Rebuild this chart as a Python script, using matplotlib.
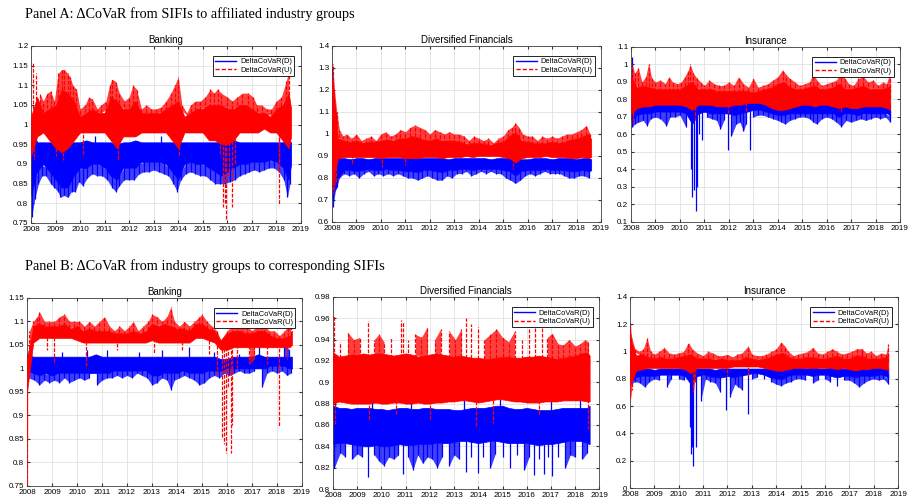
import numpy as np
import matplotlib.pyplot as plt
from matplotlib.lines import Line2D
from matplotlib.ticker import FuncFormatter

plt.rcParams["font.family"] = ["Liberation Sans", "DejaVu Sans"]

BLUE = (0.0, 0.0, 1.0)
RED = (1.0, 0.0, 0.0)

# quarterly time grid (decimal years) for the dense core of each series
quarters = list(np.arange(2008.0, 2018.51, 0.25)) + [2018.6]
years = list(range(2008, 2020))

# ---------------- Panel A: from SIFIs to industry groups ----------------
bankA_d_hi = [1.00, 0.955, 0.955, 0.955, 0.955, 0.955, 0.955, 0.955, 0.955, 0.96, 0.955, 0.955,
              0.955, 0.955, 0.95, 0.955, 0.955, 0.96, 0.955, 0.955, 0.955, 0.955, 0.955, 0.955,
              0.955, 0.955, 0.955, 0.955, 0.955, 0.955, 0.955, 0.955, 0.955, 0.96, 0.955, 0.955,
              0.955, 0.955, 0.955, 0.955, 0.955, 0.955, 0.96, 0.955]
bankA_d_lo = [0.82, 0.88, 0.90, 0.88, 0.86, 0.84, 0.84, 0.87, 0.89, 0.89, 0.90, 0.90,
              0.89, 0.87, 0.86, 0.89, 0.89, 0.89, 0.905, 0.905, 0.905, 0.905, 0.90, 0.88,
              0.86, 0.90, 0.905, 0.90, 0.90, 0.89, 0.88, 0.87, 0.88, 0.89, 0.90, 0.90,
              0.905, 0.905, 0.905, 0.91, 0.905, 0.89, 0.86, 0.90]
bankA_u_hi = [1.02, 1.07, 1.03, 1.04, 1.05, 1.09, 1.08, 1.06, 1.02, 1.03, 1.04, 1.03,
              1.03, 1.07, 1.06, 1.04, 1.04, 1.06, 1.03, 1.03, 1.03, 1.03, 1.04, 1.05,
              1.06, 1.02, 1.03, 1.04, 1.04, 1.05, 1.05, 1.05, 1.04, 1.04, 1.05, 1.05,
              1.04, 1.03, 1.03, 1.02, 1.04, 1.05, 1.08, 1.04]
bankA_u_lo = [0.92, 0.97, 0.98, 0.96, 0.94, 0.93, 0.94, 0.96, 0.98, 0.98, 0.98, 0.98,
              0.98, 0.96, 0.94, 0.97, 0.97, 0.97, 0.98, 0.98, 0.98, 0.98, 0.98, 0.96,
              0.94, 0.98, 0.98, 0.98, 0.98, 0.96, 0.96, 0.95, 0.95, 0.96, 0.98, 0.98,
              0.98, 0.98, 0.99, 0.98, 0.98, 0.96, 0.94, 0.97]
bankA_d_spikes = [(2008.02, 0.765), (2008.05, 1.0), (2008.1, 0.97), (2010.6, 0.97),
                  (2013.3, 0.97), (2016.1, 0.97),
                  (2008.15, 0.81), (2008.3, 0.85), (2008.45, 0.87), (2008.6, 0.87),
                  (2008.8, 0.85), (2008.95, 0.84), (2009.1, 0.83), (2009.2, 0.815),
                  (2009.35, 0.82), (2009.5, 0.815), (2009.65, 0.83), (2009.8, 0.83),
                  (2009.95, 0.855), (2010.1, 0.845), (2010.3, 0.865), (2010.5, 0.875),
                  (2010.7, 0.87), (2010.9, 0.87), (2011.1, 0.86), (2011.3, 0.84),
                  (2011.45, 0.83), (2011.6, 0.845), (2011.8, 0.86), (2012.0, 0.86),
                  (2012.2, 0.86), (2012.4, 0.875), (2012.6, 0.88), (2012.8, 0.88),
                  (2013.0, 0.885), (2013.2, 0.88), (2013.4, 0.875), (2013.6, 0.87),
                  (2013.8, 0.85), (2013.95, 0.83), (2014.1, 0.86), (2014.3, 0.875),
                  (2014.5, 0.88), (2014.7, 0.875), (2014.9, 0.87), (2015.1, 0.87),
                  (2015.3, 0.86), (2015.5, 0.85), (2015.7, 0.85), (2015.9, 0.85),
                  (2016.1, 0.855), (2016.3, 0.86), (2016.5, 0.87), (2016.7, 0.875),
                  (2016.9, 0.88), (2017.1, 0.885), (2017.3, 0.88), (2017.5, 0.885),
                  (2017.7, 0.89), (2017.9, 0.89), (2018.1, 0.88), (2018.3, 0.86),
                  (2018.45, 0.815), (2018.55, 0.85)]
bankA_u_spikes = [(2008.08, 1.16), (2008.2, 1.13), (2008.35, 1.08), (2008.5, 1.06),
                  (2008.65, 1.08), (2008.8, 1.085), (2008.95, 1.06), (2009.1, 1.13),
                  (2009.25, 1.14), (2009.35, 1.14), (2009.5, 1.13), (2009.6, 1.12),
                  (2009.7, 1.10), (2009.85, 1.09), (2010.0, 1.04), (2010.2, 1.05),
                  (2010.35, 1.07), (2010.5, 1.065), (2010.7, 1.04), (2010.85, 1.05),
                  (2011.05, 1.06), (2011.2, 1.10), (2011.3, 1.115), (2011.45, 1.11),
                  (2011.6, 1.08), (2011.8, 1.06), (2012.0, 1.07), (2012.15, 1.10),
                  (2012.3, 1.09), (2012.5, 1.04), (2012.7, 1.05), (2012.9, 1.04),
                  (2013.1, 1.04), (2013.3, 1.045), (2013.5, 1.06), (2013.7, 1.08),
                  (2013.85, 1.10), (2014.0, 1.12), (2014.15, 1.05), (2014.35, 1.03),
                  (2014.5, 1.05), (2014.7, 1.06), (2014.9, 1.06), (2015.1, 1.07),
                  (2015.3, 1.09), (2015.45, 1.08), (2015.6, 1.09), (2015.75, 1.08),
                  (2016.0, 1.07), (2016.2, 1.06), (2016.4, 1.07), (2016.6, 1.08),
                  (2016.85, 1.08), (2017.05, 1.07), (2017.2, 1.05), (2017.4, 1.05),
                  (2017.6, 1.04), (2017.8, 1.04), (2018.0, 1.06), (2018.2, 1.07),
                  (2018.4, 1.11), (2018.5, 1.135),
                  (2008.12, 0.91), (2009.0, 0.92), (2009.3, 0.91), (2010.1, 0.92),
                  (2011.55, 0.91), (2014.05, 0.92), (2015.7, 0.92), (2016.3, 0.90),
                  (2015.82, 0.79), (2015.9, 0.80), (2015.95, 0.76), (2016.05, 0.87),
                  (2016.2, 0.79), (2018.1, 0.795), (2018.12, 0.88)]

divA_d_hi = [1.25, 0.89, 0.89, 0.885, 0.89, 0.89, 0.885, 0.89, 0.89, 0.89, 0.89, 0.89,
             0.89, 0.89, 0.89, 0.89, 0.89, 0.89, 0.89, 0.885, 0.89, 0.89, 0.89, 0.89,
             0.89, 0.89, 0.885, 0.89, 0.89, 0.89, 0.89, 0.885, 0.885, 0.89, 0.89, 0.89,
             0.885, 0.89, 0.89, 0.89, 0.885, 0.89, 0.89, 0.885]
divA_d_lo = [0.70, 0.80, 0.835, 0.835, 0.83, 0.835, 0.84, 0.835, 0.835, 0.84, 0.835, 0.835,
             0.83, 0.83, 0.825, 0.835, 0.835, 0.83, 0.825, 0.835, 0.835, 0.84, 0.84, 0.835,
             0.84, 0.84, 0.84, 0.84, 0.835, 0.83, 0.81, 0.83, 0.835, 0.835, 0.835, 0.84,
             0.835, 0.835, 0.835, 0.83, 0.83, 0.835, 0.83, 0.835]
divA_u_hi = [1.25, 0.98, 0.97, 0.965, 0.97, 0.96, 0.965, 0.965, 0.97, 0.975, 0.97, 0.98,
             0.98, 0.99, 0.985, 0.975, 0.97, 0.98, 0.97, 0.97, 0.97, 0.965, 0.955, 0.96,
             0.96, 0.955, 0.95, 0.96, 0.965, 0.99, 1.01, 0.97, 0.965, 0.96, 0.96, 0.96,
             0.965, 0.96, 0.965, 0.975, 0.98, 0.99, 1.00, 0.975]
divA_u_lo = [0.78, 0.89, 0.895, 0.895, 0.895, 0.895, 0.895, 0.895, 0.89, 0.895, 0.895, 0.895,
             0.89, 0.89, 0.89, 0.895, 0.895, 0.895, 0.89, 0.895, 0.895, 0.895, 0.90, 0.895,
             0.90, 0.90, 0.90, 0.90, 0.895, 0.89, 0.87, 0.89, 0.895, 0.895, 0.895, 0.90,
             0.895, 0.895, 0.895, 0.89, 0.89, 0.895, 0.89, 0.895]
divA_d_spikes = [(2008.02, 1.31), (2008.1, 1.16), (2008.15, 1.10), (2008.04, 0.67),
                 (2008.15, 0.75), (2008.2, 0.76),
                 (2008.3, 0.80), (2008.5, 0.82), (2008.7, 0.81), (2008.9, 0.82),
                 (2009.1, 0.80), (2009.3, 0.82), (2009.5, 0.83), (2009.7, 0.81),
                 (2009.9, 0.82), (2010.1, 0.81), (2010.3, 0.82), (2010.5, 0.81),
                 (2010.7, 0.82), (2010.9, 0.81), (2011.1, 0.80), (2011.3, 0.80),
                 (2011.5, 0.79), (2011.7, 0.80), (2011.9, 0.81), (2012.1, 0.80),
                 (2012.3, 0.79), (2012.5, 0.79), (2012.7, 0.81), (2012.9, 0.80),
                 (2013.1, 0.82), (2013.3, 0.82), (2013.5, 0.83), (2013.7, 0.81),
                 (2013.9, 0.82), (2014.1, 0.83), (2014.3, 0.82), (2014.5, 0.83),
                 (2014.7, 0.82), (2014.9, 0.82), (2015.1, 0.80), (2015.3, 0.79),
                 (2015.5, 0.775), (2015.7, 0.79), (2015.9, 0.81), (2016.1, 0.82),
                 (2016.3, 0.81), (2016.5, 0.82), (2016.7, 0.83), (2016.9, 0.82),
                 (2017.1, 0.82), (2017.3, 0.82), (2017.5, 0.81), (2017.7, 0.80),
                 (2017.9, 0.80), (2018.1, 0.81), (2018.3, 0.81), (2018.5, 0.80)]
divA_u_spikes = [(2008.03, 1.32), (2008.1, 1.20), (2008.2, 1.10), (2008.05, 0.73),
                 (2008.15, 0.78),
                 (2008.3, 1.02), (2008.45, 0.99), (2008.6, 1.0), (2008.8, 0.98),
                 (2009.0, 1.0), (2009.2, 0.97), (2009.4, 0.98), (2009.6, 0.99),
                 (2009.8, 0.97), (2010.0, 1.0), (2010.2, 1.01), (2010.4, 0.99),
                 (2010.6, 1.0), (2010.8, 1.02), (2011.0, 1.01), (2011.2, 1.03),
                 (2011.4, 1.04), (2011.6, 1.03), (2011.8, 1.02), (2012.0, 1.0),
                 (2012.2, 1.02), (2012.4, 1.01), (2012.6, 1.0), (2012.8, 1.01),
                 (2013.0, 1.0), (2013.2, 1.0), (2013.4, 0.99), (2013.6, 0.97),
                 (2013.8, 0.99), (2014.0, 0.98), (2014.2, 0.97), (2014.4, 0.98),
                 (2014.6, 0.96), (2014.8, 0.98), (2015.0, 0.99), (2015.2, 1.02),
                 (2015.35, 1.03), (2015.5, 1.05), (2015.65, 1.03), (2015.8, 1.0),
                 (2016.0, 0.99), (2016.2, 0.99), (2016.4, 0.97), (2016.6, 0.99),
                 (2016.8, 0.98), (2017.0, 0.99), (2017.2, 0.98), (2017.4, 0.99),
                 (2017.6, 1.0), (2017.8, 1.0), (2018.0, 1.01), (2018.2, 1.02),
                 (2018.4, 1.04), (2018.55, 1.0),
                 (2008.8, 0.86), (2010.05, 0.85), (2011.0, 0.86), (2015.42, 0.84)]

insA_d_hi = [0.79, 0.785, 0.785, 0.785, 0.78, 0.785, 0.785, 0.785, 0.785, 0.785, 0.78, 0.785,
             0.785, 0.785, 0.78, 0.78, 0.78, 0.78, 0.785, 0.785, 0.785, 0.785, 0.785, 0.785,
             0.78, 0.78, 0.78, 0.785, 0.785, 0.785, 0.785, 0.785, 0.785, 0.785, 0.785, 0.785,
             0.78, 0.78, 0.785, 0.785, 0.785, 0.785, 0.785, 0.78]
insA_d_lo = [0.68, 0.71, 0.72, 0.72, 0.73, 0.73, 0.73, 0.73, 0.73, 0.72, 0.66, 0.72,
             0.73, 0.72, 0.72, 0.72, 0.72, 0.71, 0.72, 0.73, 0.74, 0.74, 0.73, 0.72,
             0.71, 0.71, 0.72, 0.72, 0.72, 0.72, 0.72, 0.72, 0.72, 0.72, 0.70, 0.72,
             0.72, 0.71, 0.72, 0.72, 0.72, 0.72, 0.72, 0.70]
insA_u_hi = [0.93, 0.87, 0.88, 0.87, 0.86, 0.86, 0.86, 0.86, 0.86, 0.88, 0.90, 0.86,
             0.86, 0.86, 0.85, 0.85, 0.85, 0.85, 0.85, 0.85, 0.84, 0.85, 0.86, 0.87,
             0.89, 0.90, 0.87, 0.86, 0.86, 0.87, 0.88, 0.86, 0.86, 0.87, 0.89, 0.86,
             0.86, 0.87, 0.88, 0.86, 0.86, 0.86, 0.87, 0.88]
insA_u_lo = [0.72, 0.75, 0.76, 0.76, 0.77, 0.77, 0.77, 0.77, 0.77, 0.76, 0.74, 0.77,
             0.77, 0.77, 0.76, 0.76, 0.76, 0.77, 0.77, 0.78, 0.78, 0.78, 0.77, 0.75,
             0.74, 0.74, 0.75, 0.76, 0.77, 0.77, 0.76, 0.77, 0.77, 0.76, 0.75, 0.76,
             0.75, 0.75, 0.76, 0.76, 0.76, 0.76, 0.75, 0.74]
insA_d_spikes = [(2008.03, 1.04), (2008.06, 0.95),
                 (2008.04, 0.64), (2008.15, 0.66), (2008.3, 0.67), (2008.5, 0.68),
                 (2008.65, 0.65), (2008.8, 0.69), (2009.0, 0.70), (2009.2, 0.69),
                 (2009.45, 0.65), (2009.6, 0.70), (2009.8, 0.70), (2010.0, 0.71),
                 (2010.25, 0.64), (2010.45, 0.40), (2010.5, 0.24), (2010.58, 0.28),
                 (2010.65, 0.165), (2010.7, 0.30), (2010.8, 0.60), (2010.9, 0.57),
                 (2011.1, 0.70), (2011.3, 0.69), (2011.5, 0.68), (2011.65, 0.63),
                 (2011.8, 0.68), (2011.95, 0.51), (2012.1, 0.59), (2012.3, 0.66),
                 (2012.45, 0.67), (2012.6, 0.62), (2012.7, 0.66), (2012.85, 0.51),
                 (2013.0, 0.70), (2013.2, 0.71), (2013.4, 0.71), (2013.6, 0.70),
                 (2013.8, 0.69), (2014.0, 0.68), (2014.15, 0.67), (2014.3, 0.66),
                 (2014.5, 0.68), (2014.7, 0.69), (2014.9, 0.70), (2015.1, 0.70),
                 (2015.3, 0.69), (2015.45, 0.67), (2015.6, 0.66), (2015.8, 0.69),
                 (2016.0, 0.70), (2016.2, 0.69), (2016.4, 0.67), (2016.6, 0.645),
                 (2016.8, 0.68), (2017.0, 0.67), (2017.2, 0.68), (2017.4, 0.69),
                 (2017.6, 0.68), (2017.8, 0.69), (2018.0, 0.70), (2018.2, 0.69),
                 (2018.4, 0.70), (2018.6, 0.67)]
insA_u_spikes = [(2008.05, 1.0), (2008.15, 0.95), (2008.3, 0.98), (2008.45, 0.90),
                 (2008.6, 0.93), (2008.72, 1.005), (2008.85, 0.92), (2009.0, 0.90),
                 (2009.2, 0.91), (2009.4, 0.89), (2009.55, 0.93), (2009.7, 0.90),
                 (2009.9, 0.89), (2010.05, 0.90), (2010.2, 0.93), (2010.35, 0.97),
                 (2010.42, 1.0), (2010.55, 0.95), (2010.7, 0.92), (2010.85, 0.90),
                 (2011.0, 0.88), (2011.2, 0.91), (2011.4, 0.89), (2011.6, 0.88),
                 (2011.8, 0.88), (2012.0, 0.90), (2012.2, 0.88), (2012.4, 0.93),
                 (2012.6, 0.89), (2012.8, 0.87), (2013.0, 0.92), (2013.2, 0.87),
                 (2013.4, 0.88), (2013.6, 0.89), (2013.8, 0.91), (2014.0, 0.93),
                 (2014.2, 0.97), (2014.35, 0.94), (2014.5, 0.92), (2014.7, 0.90),
                 (2014.9, 0.88), (2015.1, 0.89), (2015.3, 0.90), (2015.45, 0.95),
                 (2015.6, 0.91), (2015.8, 0.88), (2016.0, 0.89), (2016.2, 0.90),
                 (2016.4, 0.91), (2016.6, 0.96), (2016.75, 0.92), (2016.9, 0.89),
                 (2017.1, 0.88), (2017.3, 0.92), (2017.5, 0.93), (2017.7, 0.90),
                 (2017.9, 0.91), (2018.1, 0.88), (2018.3, 0.90), (2018.45, 0.89),
                 (2018.6, 0.96),
                 (2008.07, 0.66), (2008.1, 0.70), (2010.6, 0.68), (2011.95, 0.72),
                 (2012.7, 0.73), (2016.6, 0.72)]

# ---------------- Panel B: from industry groups to SIFIs ----------------
bankB_d_hi = [1.03, 1.025, 1.025, 1.025, 1.025, 1.025, 1.025, 1.025, 1.025, 1.025, 1.025, 1.03,
              1.025, 1.025, 1.025, 1.025, 1.025, 1.025, 1.025, 1.025, 1.025, 1.025, 1.025, 1.025,
              1.025, 1.025, 1.025, 1.025, 1.025, 1.025, 1.025, 1.02, 1.02, 1.025, 1.025, 1.025,
              1.025, 1.03, 1.025, 1.025, 1.025, 1.025, 1.025, 1.025]
bankB_d_lo = [0.995, 0.99, 0.985, 0.99, 0.985, 0.99, 0.99, 0.99, 0.99, 0.99, 0.99, 0.99,
              0.99, 0.99, 0.995, 0.995, 0.995, 0.995, 0.995, 0.995, 0.985, 0.985, 0.99, 0.99,
              0.99, 0.995, 0.99, 0.99, 0.99, 0.995, 0.995, 0.995, 1.0, 1.0, 1.0, 1.0,
              1.0, 1.0, 1.0, 1.005, 1.005, 1.005, 1.0, 1.0]
bankB_u_hi = [1.02, 1.09, 1.095, 1.09, 1.09, 1.09, 1.095, 1.085, 1.09, 1.08, 1.085, 1.08,
              1.08, 1.08, 1.075, 1.075, 1.075, 1.08, 1.075, 1.08, 1.095, 1.09, 1.095, 1.09,
              1.085, 1.085, 1.08, 1.095, 1.095, 1.085, 1.08, 1.06, 1.075, 1.08, 1.08, 1.075,
              1.075, 1.08, 1.08, 1.07, 1.065, 1.065, 1.07, 1.08]
bankB_u_lo = [0.95, 1.055, 1.065, 1.065, 1.065, 1.065, 1.065, 1.065, 1.06, 1.055, 1.055, 1.055,
              1.055, 1.055, 1.055, 1.055, 1.055, 1.055, 1.055, 1.055, 1.06, 1.055, 1.055, 1.055,
              1.055, 1.055, 1.055, 1.065, 1.065, 1.06, 1.055, 1.04, 1.04, 1.045, 1.045, 1.045,
              1.045, 1.045, 1.045, 1.045, 1.045, 1.045, 1.045, 1.05]
bankB_d_spikes = [(2008.1, 1.04), (2009.4, 1.035), (2010.4, 1.04), (2011.2, 1.04),
                  (2012.5, 1.035), (2013.4, 1.04), (2014.5, 1.045), (2015.5, 1.035),
                  (2016.5, 1.03), (2017.3, 1.045), (2018.3, 1.05), (2018.5, 1.04),
                  (2008.05, 0.98), (2008.3, 0.975), (2008.5, 0.965), (2008.7, 0.975),
                  (2008.9, 0.97), (2009.1, 0.975), (2009.3, 0.97), (2009.5, 0.98),
                  (2009.7, 0.97), (2009.9, 0.975), (2010.1, 0.98), (2010.3, 0.975),
                  (2010.5, 0.98), (2010.8, 0.965), (2011.0, 0.975), (2011.2, 0.98),
                  (2011.4, 0.98), (2011.6, 0.985), (2011.8, 0.98), (2012.0, 0.985),
                  (2012.2, 0.98), (2012.4, 0.99), (2012.6, 0.985), (2012.8, 0.98),
                  (2013.0, 0.965), (2013.2, 0.97), (2013.4, 0.98), (2013.6, 0.975),
                  (2013.75, 0.955), (2013.9, 0.975), (2014.1, 0.98), (2014.3, 0.985),
                  (2014.5, 0.98), (2014.7, 0.975), (2014.9, 0.965), (2015.1, 0.97),
                  (2015.3, 0.98), (2015.5, 0.985), (2015.7, 0.98), (2015.9, 0.99),
                  (2016.1, 0.985), (2016.3, 0.99), (2016.5, 0.995), (2016.7, 0.99),
                  (2016.9, 0.99), (2017.1, 0.995), (2017.4, 0.96), (2017.6, 0.99),
                  (2017.8, 0.995), (2018.0, 0.99), (2018.2, 0.995), (2018.4, 0.985),
                  (2018.55, 0.99)]
bankB_u_spikes = [(2008.1, 1.08), (2008.25, 1.10), (2008.4, 1.11), (2008.5, 1.12),
                  (2008.7, 1.10), (2008.9, 1.10), (2009.1, 1.10), (2009.3, 1.11),
                  (2009.5, 1.115), (2009.7, 1.10), (2009.9, 1.10), (2010.1, 1.10),
                  (2010.3, 1.09), (2010.5, 1.10), (2010.7, 1.09), (2010.9, 1.10),
                  (2011.1, 1.11), (2011.3, 1.09), (2011.5, 1.08), (2011.7, 1.09),
                  (2011.9, 1.08), (2012.1, 1.09), (2012.25, 1.10), (2012.45, 1.08),
                  (2012.65, 1.09), (2012.85, 1.10), (2013.0, 1.115), (2013.2, 1.11),
                  (2013.4, 1.10), (2013.6, 1.11), (2013.75, 1.13), (2013.9, 1.10),
                  (2014.1, 1.09), (2014.3, 1.10), (2014.5, 1.09), (2014.7, 1.10),
                  (2014.9, 1.11), (2015.0, 1.115), (2015.2, 1.10), (2015.4, 1.09),
                  (2015.6, 1.08), (2015.75, 1.06), (2016.0, 1.08), (2016.2, 1.09),
                  (2016.4, 1.09), (2016.6, 1.115), (2016.8, 1.09), (2017.0, 1.08),
                  (2017.2, 1.09), (2017.35, 1.11), (2017.5, 1.09), (2017.7, 1.08),
                  (2017.9, 1.08), (2018.1, 1.07), (2018.3, 1.08), (2018.45, 1.09),
                  (2018.55, 1.10),
                  (2008.0, 0.75), (2008.02, 0.85), (2008.05, 1.0), (2008.8, 1.04),
                  (2009.1, 1.01), (2010.35, 1.0), (2011.6, 1.04), (2013.1, 1.03),
                  (2014.2, 1.04), (2015.3, 1.03), (2015.6, 0.985), (2015.8, 0.855),
                  (2015.9, 0.84), (2015.97, 0.82), (2016.05, 0.96), (2016.15, 0.82),
                  (2016.2, 0.88), (2016.4, 1.0), (2016.9, 1.01), (2017.1, 1.02),
                  (2017.6, 1.01), (2018.1, 0.875), (2018.4, 1.02)]

divB_d_hi = [0.878, 0.876, 0.876, 0.875, 0.876, 0.876, 0.876, 0.875, 0.875, 0.874, 0.875, 0.876,
             0.876, 0.875, 0.875, 0.876, 0.876, 0.875, 0.875, 0.875, 0.874, 0.874, 0.875, 0.876,
             0.876, 0.876, 0.877, 0.878, 0.878, 0.876, 0.875, 0.875, 0.876, 0.875, 0.874, 0.874,
             0.874, 0.875, 0.876, 0.876, 0.876, 0.876, 0.876, 0.878]
divB_d_lo = [0.842, 0.843, 0.843, 0.842, 0.841, 0.840, 0.840, 0.841, 0.840, 0.840, 0.841, 0.842,
             0.841, 0.841, 0.842, 0.842, 0.842, 0.843, 0.843, 0.843, 0.844, 0.845, 0.845, 0.844,
             0.843, 0.844, 0.845, 0.845, 0.844, 0.843, 0.843, 0.843, 0.843, 0.842, 0.841, 0.842,
             0.842, 0.843, 0.844, 0.845, 0.845, 0.845, 0.843, 0.842]
divB_u_hi = [0.928, 0.924, 0.925, 0.926, 0.926, 0.927, 0.926, 0.927, 0.927, 0.926, 0.925, 0.926,
             0.927, 0.926, 0.924, 0.925, 0.926, 0.927, 0.926, 0.925, 0.924, 0.925, 0.924, 0.923,
             0.923, 0.922, 0.922, 0.923, 0.924, 0.924, 0.923, 0.923, 0.924, 0.924, 0.925, 0.924,
             0.923, 0.922, 0.923, 0.924, 0.925, 0.927, 0.928, 0.925]
divB_u_lo = [0.880, 0.882, 0.881, 0.880, 0.880, 0.880, 0.880, 0.881, 0.880, 0.880, 0.881, 0.881,
             0.880, 0.880, 0.881, 0.880, 0.880, 0.881, 0.881, 0.882, 0.882, 0.883, 0.883, 0.882,
             0.881, 0.882, 0.883, 0.884, 0.884, 0.883, 0.882, 0.882, 0.881, 0.881, 0.881, 0.882,
             0.882, 0.882, 0.883, 0.883, 0.883, 0.883, 0.882, 0.882]
divB_d_spikes = [(2008.05, 0.820), (2008.3, 0.834), (2008.5, 0.830), (2008.8, 0.828),
                 (2009.0, 0.833), (2009.2, 0.830), (2009.45, 0.811), (2009.7, 0.832),
                 (2009.9, 0.826), (2010.1, 0.822), (2010.3, 0.830), (2010.5, 0.828),
                 (2010.7, 0.832), (2010.9, 0.814), (2011.1, 0.830), (2011.3, 0.818),
                 (2011.5, 0.832), (2011.7, 0.824), (2011.9, 0.830), (2012.1, 0.828),
                 (2012.3, 0.820), (2012.5, 0.830), (2012.8, 0.822), (2013.0, 0.832),
                 (2013.2, 0.828), (2013.5, 0.816), (2013.7, 0.830), (2014.0, 0.815),
                 (2014.2, 0.830), (2014.5, 0.820), (2014.7, 0.833), (2015.0, 0.830),
                 (2015.3, 0.820), (2015.6, 0.832), (2015.9, 0.818), (2016.1, 0.830),
                 (2016.3, 0.813), (2016.5, 0.828), (2016.7, 0.814), (2016.9, 0.830),
                 (2017.05, 0.812), (2017.3, 0.830), (2017.6, 0.820), (2017.8, 0.832),
                 (2018.0, 0.830), (2018.3, 0.828), (2018.5, 0.834),
                 (2008.1, 0.888), (2009.6, 0.884), (2011.2, 0.884), (2013.4, 0.885),
                 (2014.9, 0.885), (2017.0, 0.890), (2018.2, 0.884)]
divB_u_spikes = [(2008.02, 0.962), (2008.3, 0.938), (2008.6, 0.947), (2008.85, 0.940),
                 (2009.1, 0.942), (2009.45, 0.957), (2009.7, 0.940), (2009.9, 0.945),
                 (2010.1, 0.938), (2010.4, 0.942), (2010.8, 0.958), (2010.9, 0.956),
                 (2011.1, 0.940), (2011.4, 0.945), (2011.65, 0.942), (2011.9, 0.952),
                 (2012.2, 0.940), (2012.45, 0.950), (2012.8, 0.948), (2013.05, 0.940),
                 (2013.3, 0.950), (2013.5, 0.960), (2013.7, 0.955), (2014.0, 0.952),
                 (2014.25, 0.940), (2014.5, 0.945), (2014.75, 0.950), (2015.0, 0.942),
                 (2015.25, 0.938), (2015.5, 0.948), (2015.8, 0.940), (2016.1, 0.958),
                 (2016.35, 0.953), (2016.65, 0.955), (2016.85, 0.942), (2017.05, 0.946),
                 (2017.3, 0.936), (2017.5, 0.935), (2017.75, 0.940), (2018.0, 0.934),
                 (2018.2, 0.936), (2018.4, 0.940), (2018.55, 0.938),
                 (2008.1, 0.860), (2009.5, 0.865), (2010.6, 0.868), (2012.0, 0.866),
                 (2013.9, 0.858), (2014.6, 0.862), (2016.5, 0.868), (2018.55, 0.856)]

insB_d_hi = [1.00, 0.875, 0.875, 0.875, 0.865, 0.875, 0.875, 0.875, 0.875, 0.875, 0.86, 0.875,
             0.875, 0.875, 0.865, 0.875, 0.875, 0.875, 0.875, 0.875, 0.875, 0.875, 0.875, 0.875,
             0.865, 0.865, 0.875, 0.885, 0.885, 0.875, 0.885, 0.875, 0.875, 0.885, 0.885, 0.875,
             0.875, 0.875, 0.885, 0.885, 0.885, 0.885, 0.885, 0.875]
insB_d_lo = [0.78, 0.81, 0.82, 0.82, 0.82, 0.83, 0.83, 0.83, 0.83, 0.82, 0.76, 0.82,
             0.83, 0.82, 0.81, 0.81, 0.82, 0.81, 0.82, 0.83, 0.84, 0.84, 0.83, 0.81,
             0.80, 0.80, 0.82, 0.83, 0.83, 0.83, 0.82, 0.83, 0.83, 0.82, 0.81, 0.82,
             0.82, 0.81, 0.82, 0.82, 0.82, 0.83, 0.82, 0.80]
insB_u_hi = [1.10, 0.97, 0.98, 0.96, 0.95, 0.96, 0.95, 0.95, 0.96, 0.97, 0.98, 0.95,
             0.95, 0.95, 0.94, 0.95, 0.94, 0.94, 0.94, 0.96, 0.95, 0.94, 0.95, 0.96,
             0.98, 0.99, 0.96, 0.95, 0.95, 0.96, 0.96, 0.95, 0.95, 0.96, 0.97, 0.95,
             0.95, 0.97, 0.97, 0.95, 0.95, 0.95, 0.96, 0.98]
insB_u_lo = [0.75, 0.86, 0.87, 0.88, 0.88, 0.88, 0.88, 0.88, 0.88, 0.87, 0.84, 0.88,
             0.88, 0.88, 0.88, 0.88, 0.88, 0.89, 0.89, 0.89, 0.89, 0.89, 0.88, 0.87,
             0.86, 0.86, 0.87, 0.88, 0.88, 0.88, 0.88, 0.88, 0.88, 0.88, 0.87, 0.88,
             0.87, 0.86, 0.87, 0.87, 0.88, 0.88, 0.87, 0.86]
insB_d_spikes = [(2008.02, 1.21), (2008.1, 1.05), (2008.2, 0.95), (2017.5, 1.02),
                 (2008.05, 0.76), (2008.2, 0.78), (2008.4, 0.77), (2008.6, 0.74),
                 (2008.8, 0.78), (2009.0, 0.80), (2009.2, 0.79), (2009.5, 0.74),
                 (2009.7, 0.80), (2010.0, 0.80), (2010.2, 0.79), (2010.45, 0.45),
                 (2010.5, 0.25), (2010.55, 0.30), (2010.6, 0.16), (2010.7, 0.30),
                 (2010.9, 0.64), (2011.1, 0.80), (2011.3, 0.78), (2011.5, 0.77),
                 (2011.7, 0.70), (2011.95, 0.57), (2012.1, 0.67), (2012.3, 0.76),
                 (2012.45, 0.74), (2012.6, 0.72), (2012.85, 0.54), (2013.0, 0.80),
                 (2013.2, 0.81), (2013.5, 0.80), (2013.8, 0.78), (2014.0, 0.76),
                 (2014.2, 0.75), (2014.4, 0.77), (2014.6, 0.78), (2014.8, 0.80),
                 (2015.0, 0.80), (2015.2, 0.79), (2015.5, 0.77), (2015.7, 0.79),
                 (2016.0, 0.80), (2016.2, 0.78), (2016.5, 0.75), (2016.8, 0.79),
                 (2017.0, 0.79), (2017.2, 0.77), (2017.4, 0.74), (2017.6, 0.77),
                 (2017.8, 0.79), (2018.0, 0.80), (2018.2, 0.79), (2018.4, 0.80),
                 (2018.6, 0.76)]
insB_u_spikes = [(2008.0, 1.20), (2008.05, 1.12), (2008.2, 1.02), (2008.4, 1.0),
                 (2008.55, 1.02), (2008.7, 1.10), (2008.85, 1.0), (2009.0, 0.98),
                 (2009.2, 1.0), (2009.4, 1.03), (2009.6, 0.99), (2009.8, 0.98),
                 (2010.0, 0.99), (2010.2, 1.0), (2010.4, 1.065), (2010.55, 1.02),
                 (2010.75, 0.99), (2011.0, 0.97), (2011.2, 1.0), (2011.4, 0.99),
                 (2011.6, 0.97), (2011.8, 0.97), (2012.0, 0.98), (2012.2, 0.96),
                 (2012.4, 0.98), (2012.6, 0.99), (2012.85, 1.04), (2013.0, 0.98),
                 (2013.2, 0.97), (2013.4, 0.97), (2013.6, 0.98), (2013.8, 1.0),
                 (2014.0, 1.02), (2014.2, 1.07), (2014.35, 1.04), (2014.5, 1.0),
                 (2014.7, 0.97), (2014.9, 0.98), (2015.1, 0.99), (2015.3, 1.0),
                 (2015.5, 1.03), (2015.7, 0.99), (2015.9, 0.98), (2016.1, 1.0),
                 (2016.3, 1.02), (2016.5, 1.0), (2016.7, 0.98), (2016.9, 0.99),
                 (2017.1, 1.0), (2017.3, 1.02), (2017.5, 1.02), (2017.7, 0.99),
                 (2017.9, 1.0), (2018.1, 0.97), (2018.3, 0.99), (2018.5, 0.98),
                 (2018.6, 1.055),
                 (2008.02, 0.65), (2008.07, 0.72), (2010.6, 0.70), (2010.65, 0.78),
                 (2012.0, 0.82), (2012.85, 0.82)]

panels = [
    ("Banking", bankA_d_hi, bankA_d_lo, bankA_u_hi, bankA_u_lo, bankA_d_spikes, bankA_u_spikes,
     (0.75, 1.2), 0.05, [0.0339, 0.5567, 0.295, 0.352]),
    ("Diversified Financials", divA_d_hi, divA_d_lo, divA_u_hi, divA_u_lo, divA_d_spikes, divA_u_spikes,
     (0.6, 1.4), 0.1, [0.3628, 0.5587, 0.294, 0.350]),
    ("Insurance", insA_d_hi, insA_d_lo, insA_u_hi, insA_u_lo, insA_d_spikes, insA_u_spikes,
     (0.1, 1.1), 0.1, [0.6896, 0.5587, 0.294, 0.348]),
    ("Banking", bankB_d_hi, bankB_d_lo, bankB_u_hi, bankB_u_lo, bankB_d_spikes, bankB_u_spikes,
     (0.75, 1.15), 0.05, [0.0295, 0.0338, 0.3005, 0.374]),
    ("Diversified Financials", divB_d_hi, divB_d_lo, divB_u_hi, divB_u_lo, divB_d_spikes, divB_u_spikes,
     (0.8, 0.98), 0.02, [0.364, 0.0278, 0.291, 0.382]),
    ("Insurance", insB_d_hi, insB_d_lo, insB_u_hi, insB_u_lo, insB_d_spikes, insB_u_spikes,
     (0.0, 1.4), 0.2, [0.6885, 0.0298, 0.293, 0.380]),
]


def draw_band(ax, hi, lo, spikes, color, style, z, span):
    hi = np.array(hi)
    lo = np.array(lo)
    ax.fill_between(quarters, lo, hi, color=color, lw=0.5, zorder=z)

    spikes = sorted(spikes)
    dates = np.array([s[0] for s in spikes])
    vals = np.array([s[1] for s in spikes])
    mid = np.interp(dates, quarters, (hi + lo) / 2)
    ax.vlines(dates, mid, vals, color=color, lw=0.9, linestyles=style, zorder=z)

    # ragged outer fringe: join neighbouring spike tips that stay near the core
    for side, edge_vals in ((1, hi), (-1, lo)):
        edge = np.interp(dates, quarters, edge_vals)
        keep = (side * (vals - mid) > 0) & (np.abs(vals - edge) < 0.15 * span)
        d, v, e = dates[keep], vals[keep], edge[keep]
        start = 0
        for i in range(1, len(d) + 1):
            if i == len(d) or d[i] - d[i - 1] > 0.26:
                if i - start >= 2:
                    ax.fill_between(d[start:i], e[start:i], v[start:i],
                                    color=color, alpha=0.75, lw=0, zorder=z)
                start = i


fig = plt.figure(figsize=(9.15, 5.03), dpi=100)

for title, d_hi, d_lo, u_hi, u_lo, d_sp, u_sp, ylim, ystep, pos in panels:
    ax = fig.add_axes(pos)
    ax.set_axisbelow(True)
    span = ylim[1] - ylim[0]
    draw_band(ax, d_hi, d_lo, d_sp, BLUE, "solid", 2, span)
    draw_band(ax, u_hi, u_lo, u_sp, RED, (0, (3, 1.2)), 3, span)

    ax.set_xlim(2008, 2019)
    ax.set_ylim(*ylim)
    ax.set_xticks(years)
    ax.set_yticks(np.round(np.arange(ylim[0], ylim[1] + ystep / 2, ystep), 3))
    ax.yaxis.set_major_formatter(FuncFormatter(lambda v, _: f"{round(v, 4):g}"))
    ax.grid(True, color="0.88", lw=0.6)
    ax.tick_params(labelsize=5.8, direction="in", length=2, color="0.2", pad=2,
                   top=True, right=True)
    for sp in ax.spines.values():
        sp.set_color("0.25")
        sp.set_linewidth(0.6)
    ax.set_title(title, fontsize=7, pad=2)

    handles = [Line2D([], [], color=BLUE, lw=1.0),
               Line2D([], [], color=RED, lw=1.0, ls=(0, (3, 1.5)))]
    leg = ax.legend(handles, ["DeltaCoVaR(D)", "DeltaCoVaR(U)"], loc="upper right",
                    fontsize=5.4, handlelength=2.8, borderpad=0.3, labelspacing=0.15,
                    handletextpad=0.5, fancybox=False, framealpha=1, edgecolor="black",
                    bbox_to_anchor=(0.99, 0.965))
    leg.get_frame().set_linewidth(0.6)
    leg.set_zorder(10)

fig.text(0.027, 0.972, "Panel A: \u0394CoVaR from SIFIs to affiliated industry groups",
         fontsize=10.3, family="Liberation Serif", va="center")
fig.text(0.027, 0.47, "Panel B: \u0394CoVaR from industry groups to corresponding SIFIs",
         fontsize=10.3, family="Liberation Serif", va="center")

fig.savefig("out.png", dpi=100)
